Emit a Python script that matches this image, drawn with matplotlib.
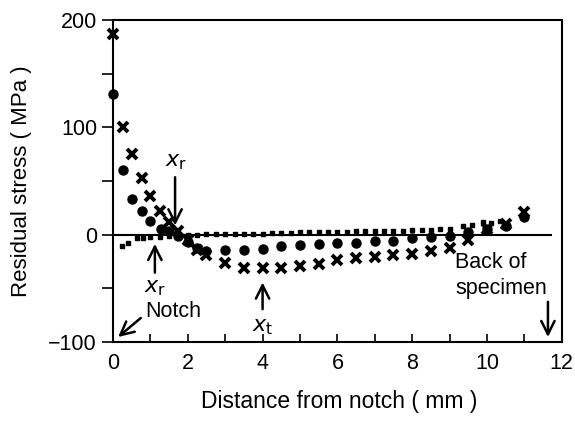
import matplotlib
matplotlib.use('Agg')
import matplotlib.pyplot as plt
from matplotlib.ticker import MultipleLocator

plt.rcParams['font.family'] = ['Liberation Sans', 'DejaVu Sans']

# circles
circX = [0, 0.27, 0.5, 0.78, 1.0, 1.28, 1.5, 1.75, 2.0, 2.25, 2.5, 3.0, 3.5, 4.0,
         4.5, 5.0, 5.5, 6.0, 6.5, 7.0, 7.5, 8.0, 8.5, 9.0, 9.5, 10.0, 10.5, 11.0]
circY = [131, 60, 33, 22, 13, 5, 3, -1, -7, -12, -15, -14, -14, -13,
         -11, -10, -9, -7.5, -7.5, -5.5, -5.5, -3, -2, -1, 2, 5, 8, 16]

# crosses
crossX = [0, 0.27, 0.5, 0.78, 1.0, 1.26, 1.5, 1.75, 2.0, 2.25, 2.5, 3.0, 3.5, 4.0,
          4.5, 5.0, 5.5, 6.0, 6.5, 7.0, 7.5, 8.0, 8.5, 9.0, 9.5, 10.0, 10.5, 11.0]
crossY = [187, 100, 75, 53, 36, 22, 12, 3, -5, -14, -19, -26, -31, -31,
          -31, -29, -27, -24, -22, -21, -19, -18, -15, -12, -5, 5, 10, 21]

# squares
sqX = [0.24, 0.4, 0.64, 0.8, 1.0, 1.25, 1.5, 1.75, 2.0, 2.25, 2.5, 2.75, 3.0, 3.25,
       3.5, 3.75, 4.0, 4.25, 4.5, 4.75, 5.0, 5.25, 5.5, 5.75, 6.0, 6.25, 6.5, 6.75,
       7.0, 7.25, 7.5, 7.75, 8.0, 8.25, 8.5, 8.75, 9.0, 9.35, 9.6, 9.9, 10.1, 10.35]
sqY = [-11, -7.5, -3.5, -3, -2.5, -2, -1.5, -1, 0, 0, 0.5, 0.5, 0.5, 1,
       1, 1, 1, 1.5, 1.5, 1.5, 2, 2, 2, 2, 2.5, 2.5, 3, 3,
       3, 3.5, 3.5, 3.5, 4, 4, 4.5, 5, 5.5, 8, 9, 12, 11, 13]

fig = plt.figure(figsize=(5.75, 4.23), dpi=100)
ax = fig.add_axes([0.1965, 0.1915, 0.7805, 0.7615])

ax.plot([0, 11.7], [0, 0], color='k', lw=1.5, zorder=1)
ax.plot(circX, circY, 'o', color='k', ms=6.5, zorder=3, clip_on=False)
ax.plot(crossX, crossY, 'x', color='k', ms=6.5, mew=2.8, zorder=3, clip_on=False)
ax.plot(sqX, sqY, 's', color='k', ms=3.5, zorder=2)

ax.set_xlim(0, 12)
ax.set_ylim(-100, 200)
ax.xaxis.set_major_locator(MultipleLocator(2))
ax.xaxis.set_minor_locator(MultipleLocator(1))
ax.yaxis.set_minor_locator(MultipleLocator(50))
ax.tick_params(axis='x', which='both', direction='in', length=6, width=1.2, labelsize=15.5, pad=8)
ax.tick_params(axis='y', which='both', direction='out', length=8, width=1.2, labelsize=15.5)
ax.set_yticks([-100, 0, 100, 200])
ax.set_yticklabels(['\u2212100', '0', '100', '200'])
for s in ax.spines.values():
    s.set_linewidth(1.5)

ax.set_xlabel('Distance from notch ( mm )', fontsize=16.5)
ax.xaxis.set_label_coords(0.503, -0.15)
ax.set_ylabel('Residual stress ( MPa )', fontsize=16)
ax.yaxis.set_label_coords(-0.18, 0.5)

arr = dict(arrowstyle='->', color='k', lw=1.8, mutation_scale=24)
ax.annotate('', xy=(1.66, 6), xytext=(1.66, 56), arrowprops=arr)
ax.text(1.7, 68, '$x_{\\mathrm{r}}$', fontsize=16, ha='center', va='center')
ax.annotate('', xy=(1.12, -6), xytext=(1.12, -38), arrowprops=arr)
ax.text(1.12, -49, '$x_{\\mathrm{r}}$', fontsize=16, ha='center', va='center')
ax.annotate('', xy=(4.0, -42), xytext=(4.0, -72), arrowprops=arr)
ax.text(4.0, -86, '$x_{\\mathrm{t}}$', fontsize=16, ha='center', va='center')
ax.annotate('', xy=(0.08, -97), xytext=(0.8, -76), arrowprops=arr)
ax.text(0.86, -72, 'Notch', fontsize=15.5, ha='left', va='center')
ax.annotate('', xy=(11.63, -98), xytext=(11.63, -60), arrowprops=arr)
ax.text(9.15, -26, 'Back of', fontsize=15.5, ha='left', va='center')
ax.text(9.15, -50, 'specimen', fontsize=15.5, ha='left', va='center')

fig.savefig('out.png', dpi=100)
